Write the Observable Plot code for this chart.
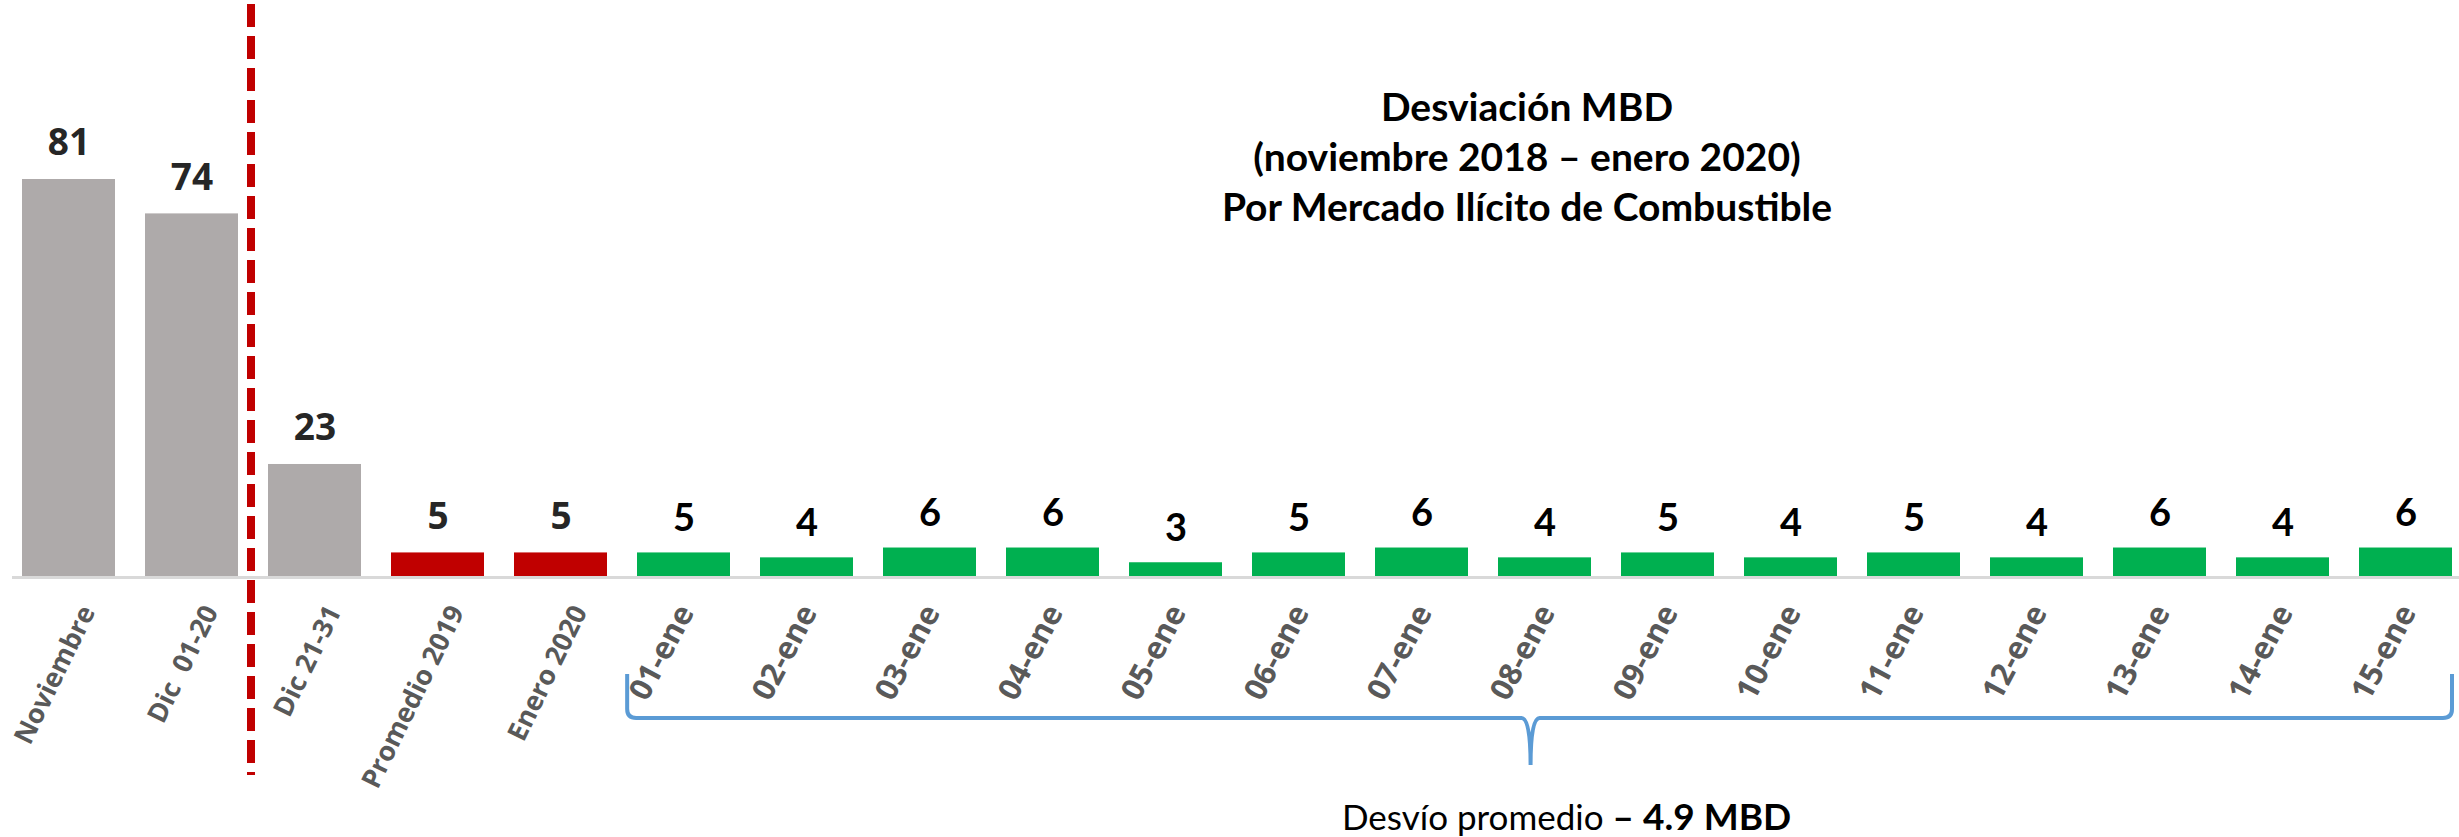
<!DOCTYPE html>
<html>
<head>
<meta charset="utf-8">
<script src="https://cdn.jsdelivr.net/npm/d3@7"></script>
<script src="https://cdn.jsdelivr.net/npm/@observablehq/plot@0.6"></script>
<style>
  html, body { margin: 0; padding: 0; background: #ffffff; }
  #chart { width: 2459px; height: 837px; overflow: hidden; }
  #chart svg text { white-space: pre; }
</style>
</head>
<body>
<div id="chart"></div>
<script>
// ---------- data ----------
const categories = [
  "Noviembre", "Dic  01-20", "Dic 21-31", "Promedio 2019", "Enero 2020",
  "01-ene", "02-ene", "03-ene", "04-ene", "05-ene", "06-ene", "07-ene", "08-ene",
  "09-ene", "10-ene", "11-ene", "12-ene", "13-ene", "14-ene", "15-ene"
];
const values = [81, 74, 23, 5, 5, 5, 4, 6, 6, 3, 5, 6, 4, 5, 4, 5, 4, 6, 4, 6];
const groups = [
  "previo", "previo", "previo", "referencia", "referencia",
  "diario", "diario", "diario", "diario", "diario", "diario", "diario", "diario",
  "diario", "diario", "diario", "diario", "diario", "diario", "diario"
];
const groupOrder = ["previo", "referencia", "diario"];
const groupColors = ["#AEAAAA", "#C00000", "#00B050"];
const titleLines = [
  "Desviación MBD",
  "(noviembre 2018 – enero 2020)",
  "Por Mercado Ilícito de Combustible"
];
const footRegular = "Desvío promedio ";
const footBold = "– 4.9 MBD";

// ---------- table ----------
const table = categories.map((c, i) => ({cat: c, value: values[i], group: groups[i], i}));
const summary = table.filter(d => d.i < 5);
const daily = table.filter(d => d.i >= 5);

// ---------- annotation mark (divider, brace, footnote) ----------
function annotations(index, scales, values, dims) {
  const x = scales.x, y = scales.y;
  const bw = x.bandwidth(), step = x.step();
  const g = d3.create("svg:g");
  // dashed divider between the 2nd and 3rd bars
  const xd = (x(categories[1]) + bw + x(categories[2])) / 2 - 2;
  g.append("line")
    .attr("x1", xd).attr("x2", xd)
    .attr("y1", 4).attr("y2", 775)
    .attr("stroke", "#C00000")
    .attr("stroke-width", 8)
    .attr("stroke-dasharray", "23 9");
  // curly brace under the daily bars
  const x0 = x(categories[5]) - 0.08 * step;
  const x1 = x(categories[categories.length - 1]) + bw;
  const xc = (x0 + x1) / 2 - 9;
  const yb = y(0);
  const yTop = yb + 97, yLine = yb + 141, yTip = yb + 188, r = 9;
  const d = `M${x0},${yTop} V${yLine - r} Q${x0},${yLine} ${x0 + r},${yLine} ` +
            `H${xc - r} Q${xc},${yLine} ${xc},${yTip} Q${xc},${yLine} ${xc + r},${yLine} ` +
            `H${x1 - r} Q${x1},${yLine} ${x1},${yLine - r} V${yTop}`;
  g.append("path")
    .attr("d", d)
    .attr("fill", "none")
    .attr("stroke", "#5B9BD5")
    .attr("stroke-width", 4);
  // footnote
  const t = g.append("text")
    .attr("x", xc + 36)
    .attr("y", yb + 253)
    .attr("text-anchor", "middle")
    .attr("font-family", "Lato, 'Open Sans', sans-serif")
    .attr("font-size", 35)
    .attr("fill", "#000");
  t.append("tspan").text(footRegular);
  t.append("tspan").attr("font-weight", "bold").attr("font-size", 37).text(footBold);
  return g.node();
}

// ---------- plot ----------
const plot = Plot.plot({
  width: 2459,
  height: 837,
  marginTop: 0,
  marginBottom: 0,
  marginLeft: 12,
  marginRight: 0,
  style: {background: "transparent", overflow: "visible"},
  x: {domain: categories, range: [16, 2458], paddingInner: 0.24, paddingOuter: 0, axis: null},
  y: {domain: [0, 81], range: [577, 179], axis: null},
  color: {domain: groupOrder, range: groupColors},
  marks: [
    Plot.barY(table, {x: "cat", y: "value", fill: "group"}),
    Plot.ruleY([0], {stroke: "#D9D9D9", strokeWidth: 3}),
    // value labels
    Plot.text(summary, {
      x: "cat", y: "value", text: d => String(d.value),
      dy: -36, fontFamily: "'Open Sans', sans-serif", fontWeight: "bold",
      fontSize: 37, fill: "#262626"
    }),
    Plot.text(daily, {
      x: "cat", y: "value", text: d => String(d.value),
      dy: -34, fontFamily: "Lato, sans-serif", fontWeight: "bold",
      fontSize: 38, fill: "#000000"
    }),
    // category labels
    Plot.text(summary, {
      x: "cat", y: () => 0, text: "cat", rotate: -64, textAnchor: "end",
      dx: 19, dy: 30, fontFamily: "'Open Sans', sans-serif", fontWeight: "bold",
      fontSize: 27, fill: "#595959"
    }),
    Plot.text(daily, {
      x: "cat", y: () => 0, text: "cat", rotate: -62, textAnchor: "end",
      dx: 2, dy: 30, fontFamily: "'Open Sans', sans-serif",
      fontWeight: "bold", fontSize: 31, fill: "#595959"
    }),
    // title
    Plot.text([titleLines.join("\n")], {
      frameAnchor: "top", dx: 291, dy: 85, lineAnchor: "top",
      fontFamily: "Lato, sans-serif", fontWeight: "bold", fontSize: 39,
      lineHeight: 50 / 39, fill: "#000000"
    }),
    annotations
  ]
});

document.getElementById("chart").appendChild(plot);
</script>
</body>
</html>
